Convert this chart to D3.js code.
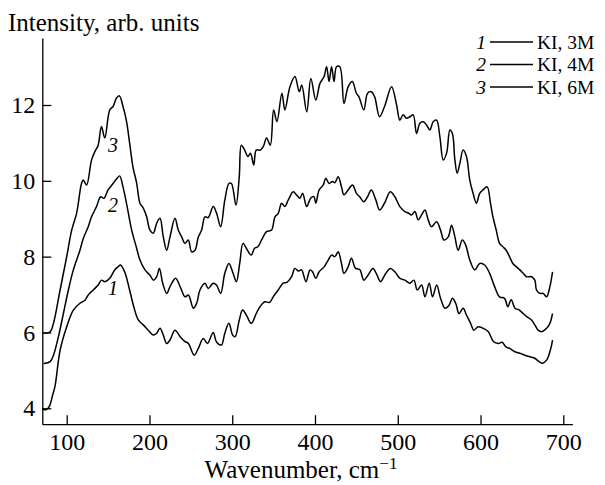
<!DOCTYPE html>
<html><head><meta charset="utf-8">
<script src="https://cdn.jsdelivr.net/npm/d3@7/dist/d3.min.js"></script>
<style>
html,body{margin:0;padding:0;background:#fff;}
svg{display:block;font-family:"Liberation Serif","Times New Roman",serif;}
</style></head>
<body>
<svg id="chart" width="605" height="485"></svg>
<script>
// ---- data ----
const xTicks = [100, 200, 300, 400, 500, 600, 700];
const yTicks = [4, 6, 8, 10, 12];
const seriesNames = ["KI, 3M", "KI, 4M", "KI, 6M"];
const seriesNums = ["1", "2", "3"];

const wn1 = [71,75,79,83,86,92,100,108,116,122,126,132,138,142,146,152,158,162,165,170,176,181,186.5,192.5,198.5,204.6,208.7,212.7,216.7,220.8,224.8,230.8,237,243,247,254,259,265,270,277,281,287,291,296,300.5,303.5,308.5,312.5,317,323,329,333.5,339.5,345,349.5,355.6,361.6,366,371.7,375.7,380,383.8,389,394,397,401,405,411,416,420,424,428,432,435,440,444,449,454,459,464,470,475,479,485.6,491,496.5,502.5,508.6,514.6,519.5,523.5,528.8,532.8,538,542,547,551.7,557,562,566,570,574,579,583,588,592,597,603,609.5,615.5,621.5,626,630.6,635,641.6,647.5,653.6,659.6,665.6,670.8,675,679.8,683.8,687];
const int1 = [3.98,3.96,4.05,4.35,4.60,5.53,6.15,6.59,6.77,6.85,6.99,7.12,7.25,7.38,7.34,7.43,7.65,7.73,7.78,7.60,7.12,6.68,6.33,6.20,6.06,5.93,5.98,6.11,5.93,5.71,5.80,6.06,5.89,5.76,5.71,5.40,5.58,5.84,5.71,6.00,5.75,5.67,5.98,6.24,5.93,5.89,6.33,6.59,6.46,6.24,6.50,6.68,6.81,6.79,6.94,7.12,7.30,7.32,7.47,7.69,7.62,7.65,7.34,7.65,7.60,7.43,7.60,7.73,7.91,8.04,8.00,8.13,7.82,7.56,7.73,7.96,7.69,7.66,7.38,7.51,7.69,7.51,7.34,7.56,7.69,7.60,7.43,7.38,7.30,7.38,7.12,7.25,6.94,7.30,6.94,7.25,6.90,6.64,6.72,6.90,6.77,6.50,6.64,6.46,6.24,6.06,6.15,6.11,6.02,5.76,5.71,5.74,5.62,5.58,5.49,5.45,5.40,5.36,5.32,5.23,5.19,5.27,5.49,5.80];

const wn2 = [72,80,84,90,96,102,108,116,120,126,130,136,141,145,150,156,161,164,168,173,178.5,184,188.5,194.6,200.6,205,208.7,212,216,220.8,224.8,231.6,237,243,247,253,257,261,267,271,277,281,286,291,296,301,305,309,313,317,323,327,331,335.5,341.5,347.5,351.6,355.6,359.6,363.6,367.6,373.7,378,381.8,385,390,394.7,398.7,401,405,410,413,417,421,424,428,432,435,440,445.4,450,454,459,463.5,468,473.6,478,484,491,496.5,502.5,508.6,512.6,516.7,520.7,524.7,528.8,532.8,536.8,540.8,546.9,551.7,555.7,561,565,569,573,578,582,587,593,599,605,611,617,623,629,633,637,641.6,646,651.5,655.6,661.6,665.6,669.6,673.7,679.8,683.8,687];
const int2 = [5.18,5.23,5.40,5.89,6.50,7.12,7.65,8.17,8.48,8.79,9.05,9.32,9.58,9.54,9.76,9.93,10.07,10.13,9.84,9.32,8.70,8.26,7.91,7.65,7.51,7.38,7.47,7.69,7.30,7.03,7.21,7.43,7.21,6.94,6.99,6.64,6.77,7.12,7.30,7.16,7.30,7.25,7.03,7.56,7.82,7.56,7.34,7.82,8.35,8.22,8.04,8.22,8.26,8.44,8.66,8.70,9.05,9.14,9.41,9.32,9.49,9.71,9.62,9.54,9.67,9.32,9.54,9.58,9.41,9.76,9.89,10.07,9.93,9.98,9.95,10.11,9.84,9.63,9.76,9.89,9.67,9.58,9.45,9.58,9.76,9.49,9.23,9.41,9.71,9.58,9.32,9.19,9.15,9.10,9.19,8.97,9.10,9.23,8.97,8.79,8.92,8.70,8.44,8.52,8.83,8.52,8.17,8.44,8.31,7.91,7.65,7.82,7.78,7.56,7.21,6.94,6.90,6.68,6.86,6.64,6.60,6.50,6.42,6.33,6.20,6.06,6.02,6.11,6.24,6.50];

const wn3 = [72,80,84,92,100,106,112,118,120,124,130,134,138,142,146,152,156,160,163.6,168,172,176,180,184.5,188.5,192.5,196.6,200.6,204.6,208.7,212.7,216.7,220.8,224.8,230.8,234.8,238.9,242.9,246.9,250.9,255,259,263,267,271,277,281,286,291,296,299,304.5,308.5,311,315,319,322,326,329,334,337.5,341.5,346,350,354,360,363.6,369.7,375.7,381,384,390,395,401,406,411,414,417,420,423,426,430,435,440,445,450,453,459,463.5,468,472,478,484,492.5,498.6,502.5,506.5,510.6,514.6,518.6,522.7,526.7,530.7,534.8,538.8,542.8,546.9,550.9,554.9,559,563,566,569,571.8,575,579,583,587,591,595,599,603,608,612,615,619,623,627,631,635,639,643.5,647.5,651.5,655.6,661.6,665.6,667.6,671.7,675.7,679.8,683.8,687];
const int3 = [5.98,6.02,6.24,7.12,8.00,8.70,9.15,9.94,10.02,9.89,10.55,10.77,10.94,11.43,11.13,11.87,11.96,12.18,12.24,11.96,11.60,11.00,10.37,9.94,9.41,9.28,9.05,8.70,8.62,8.88,9.01,8.52,8.17,8.52,9.01,8.70,8.52,8.35,8.44,8.13,8.17,8.52,8.70,9.05,9.03,9.32,9.15,8.79,9.49,9.93,9.93,9.36,10.11,10.94,10.81,10.64,10.73,10.42,10.81,10.81,10.90,11.13,10.94,11.87,11.56,12.31,11.87,12.48,12.75,12.35,12.53,11.82,12.70,12.13,12.57,12.75,13.01,12.62,13.01,12.62,13.01,13.01,12.04,12.48,12.62,12.31,12.22,11.87,12.31,12.35,12.22,11.69,11.96,12.48,12.00,11.60,11.74,11.65,11.69,11.74,11.25,11.52,11.56,11.47,11.34,11.56,11.60,11.16,10.55,10.73,11.34,11.25,10.55,10.20,10.46,10.81,10.64,10.02,9.67,9.41,9.67,9.76,9.84,9.41,9.05,8.70,8.35,8.26,8.17,8.00,7.82,7.73,7.65,7.56,7.47,7.47,7.38,7.12,7.03,7.03,6.94,7.21,7.60];

// curve number labels placed next to each curve (wavenumber, intensity)
const curveLabelPos = [[156, 7.17], [156, 9.36], [156, 10.94]];

// ---- drawing ----
const svg = d3.select("#chart");
const x = d3.scaleLinear().domain([70.5, 711]).range([42.3, 572.4]);
const y = d3.scaleLinear().domain([3.58, 13.77]).range([424.2, 37.9]);

const tickFont = 24;
const titleFont = 25;
const serif = '"Liberation Serif","Times New Roman",serif';

// x axis
const gx = svg.append("g").attr("transform", `translate(0,${y(3.58)})`)
  .call(d3.axisBottom(x).tickValues(xTicks).tickSizeInner(-9).tickSizeOuter(0).tickPadding(9).tickFormat(d3.format("d")));
// y axis
const gy = svg.append("g").attr("transform", `translate(${x(70.5)},0)`)
  .call(d3.axisLeft(y).tickValues(yTicks).tickSizeInner(-9).tickSizeOuter(0).tickPadding(7).tickFormat(d3.format("d")));

[gx, gy].forEach(g => {
  g.selectAll("path.domain").attr("stroke", "#000").attr("stroke-width", 1.3);
  g.selectAll(".tick line").attr("stroke", "#000").attr("stroke-width", 1.3);
  g.selectAll(".tick text").attr("fill", "#000")
    .style("font-family", serif)
    .style("font-size", tickFont + "px");
});

// curves
const line = d3.line().x(d => x(d[0])).y(d => y(d[1])).curve(d3.curveCatmullRom.alpha(0.5));
const series = [d3.zip(wn1, int1), d3.zip(wn2, int2), d3.zip(wn3, int3)];
series.forEach(s => {
  svg.append("path").datum(s).attr("d", line)
    .attr("fill", "none").attr("stroke", "#000").attr("stroke-width", 1.5)
    .attr("stroke-linejoin", "round");
});

// curve number labels
curveLabelPos.forEach((p, i) => {
  svg.append("text").attr("x", x(p[0])).attr("y", y(p[1]))
    .attr("text-anchor", "middle").attr("dominant-baseline", "central")
    .style("font-style", "italic").style("font-size", "20px")
    .text(seriesNums[i]);
});

// axis titles
svg.append("text").attr("x", 8).attr("y", 31)
  .style("font-size", titleFont + "px").text("Intensity, arb. units");

const xt = svg.append("text").attr("x", 301).attr("y", 478)
  .attr("text-anchor", "middle").style("font-size", titleFont + "px");
xt.append("tspan").text("Wavenumber, cm");
xt.append("tspan").attr("dy", -9).style("font-size", "17px").text("\u22121");

// legend
const legY = [42, 64.5, 87];
seriesNames.forEach((name, i) => {
  const g = svg.append("g").attr("transform", `translate(0,${legY[i]})`);
  g.append("text").attr("x", 481).attr("y", 0).attr("text-anchor", "middle")
    .attr("dominant-baseline", "central").style("font-style", "italic").style("font-size", "19.5px")
    .text(seriesNums[i]);
  g.append("line").attr("x1", 490).attr("x2", 533).attr("y1", 0).attr("y2", 0)
    .attr("stroke", "#000").attr("stroke-width", 1.3);
  g.append("text").attr("x", 537).attr("y", 0).attr("dominant-baseline", "central")
    .style("font-size", "19.5px").text(name);
});
</script>
</body></html>
